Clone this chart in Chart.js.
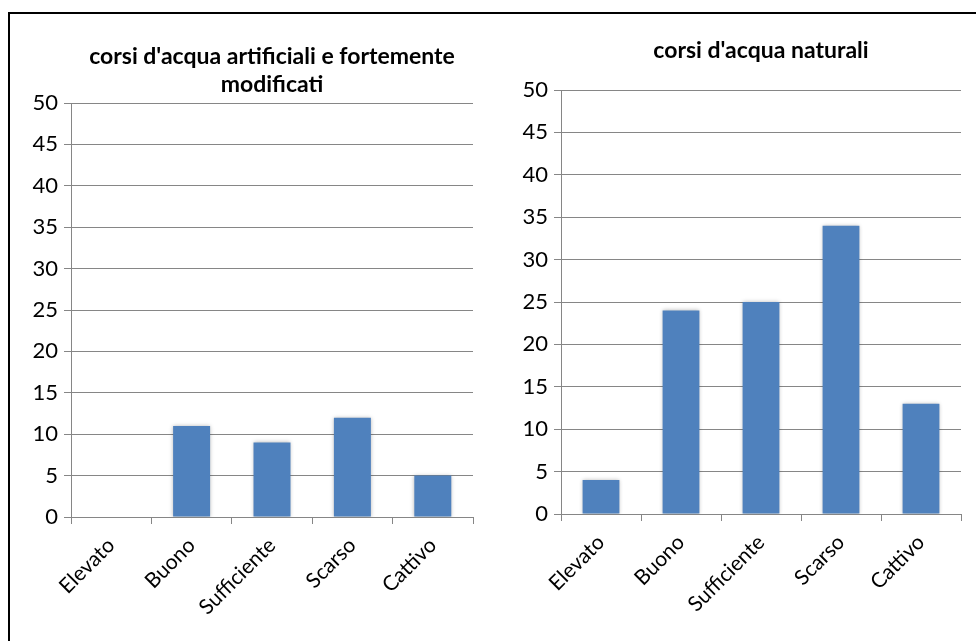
<!DOCTYPE html>
<html>
<head>
<meta charset="utf-8">
<script src="https://cdn.jsdelivr.net/npm/chart.js@4/dist/chart.umd.min.js"></script>
<style>
  html, body { margin: 0; padding: 0; background: #fff; }
  body { width: 976px; height: 641px; position: relative; overflow: hidden; }
  .frame { position: absolute; left: 8px; top: 12px; right: -5px; bottom: -5px;
           border-top: 2px solid #000; border-left: 2px solid #000; }
  .box { position: absolute; top: 0; width: 488px; height: 641px; }
</style>
</head>
<body>
<div class="frame"></div>
<div class="box" style="left:0"><canvas id="left"></canvas></div>
<div class="box" style="left:488px"><canvas id="right"></canvas></div>
<script>
const categories = ['Elevato', 'Buono', 'Sufficiente', 'Scarso', 'Cattivo'];
const artificiali = [0, 11, 9, 12, 5];
const naturali = [4, 24, 25, 34, 13];
const yTicks = [0, 5, 10, 15, 20, 25, 30, 35, 40, 45, 50];

const fontName = 'Lato';
const barColor = '#4F81BD';
const lineColor = '#868686';

// soft shadow round the bars, like the spreadsheet chart
const barShadow = {
  id: 'barShadow',
  beforeDatasetsDraw(chart) {
    const c = chart.ctx;
    c.save();
    c.shadowColor = 'rgba(0,0,0,0.28)';
    c.shadowBlur = 4;
  },
  afterDatasetsDraw(chart) { chart.ctx.restore(); }
};

function makeChart(id, title, values, yWidth, xHeight, titlePad) {
  return new Chart(document.getElementById(id), {
    type: 'bar',
    data: {
      labels: categories,
      datasets: [{
        data: values,
        backgroundColor: barColor,
        borderWidth: 0,
        categoryPercentage: 1,
        barPercentage: 0.46
      }]
    },
    options: {
      responsive: true,
      maintainAspectRatio: false,
      animation: false,
      layout: { padding: { left: 0, right: 15, top: 0, bottom: 0 } },
      plugins: {
        legend: { display: false },
        tooltip: { enabled: false },
        title: {
          display: true,
          text: title,
          fullSize: false,
          color: '#000',
          font: { family: fontName, size: 23, weight: 'bold', lineHeight: 28 / 23 },
          padding: titlePad
        }
      },
      scales: {
        x: {
          grid: { offset: true, drawOnChartArea: false, drawTicks: true, tickLength: 7, color: lineColor },
          border: { color: lineColor },
          ticks: {
            color: '#000', maxRotation: 45, minRotation: 45, padding: 9,
            font: { family: fontName, size: 21 }
          },
          afterFit(s) { s.height = xHeight; }
        },
        y: {
          min: 0, max: 50,
          afterBuildTicks(s) { s.ticks = yTicks.map(v => ({ value: v })); },
          grid: { color: lineColor, tickLength: 7 },
          border: { color: lineColor },
          ticks: {
            color: '#000', padding: 6,
            font: { family: fontName, size: 22 }
          },
          afterFit(s) { s.width = yWidth; }
        }
      }
    },
    plugins: [barShadow]
  });
}

makeChart('left', ["corsi d'acqua artificiali e fortemente", 'modificati'],
  artificiali, 71, 124, { top: 43, bottom: 4 });
makeChart('right', "corsi d'acqua naturali",
  naturali, 73, 127, { top: 37, bottom: 25 });
</script>
</body>
</html>
